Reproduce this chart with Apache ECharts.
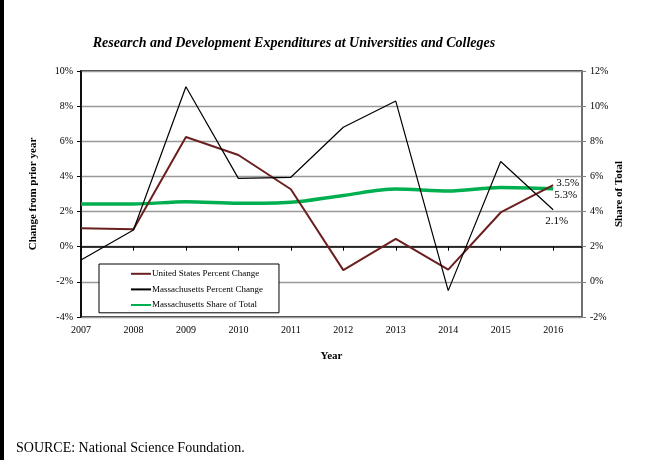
<!DOCTYPE html>
<html>
<head>
<meta charset="utf-8">
<script src="https://cdn.jsdelivr.net/npm/echarts@6/dist/echarts.min.js"></script>
<style>
html,body{margin:0;padding:0;background:#fff;}
#chart{width:647px;height:460px;}
</style>
</head>
<body>
<div id="chart"></div>
<script>
const years = [2007, 2008, 2009, 2010, 2011, 2012, 2013, 2014, 2015, 2016];
const usChange = [1.05, 0.99, 6.24, 5.22, 3.27, -1.33, 0.45, -1.3, 1.95, 3.5];
const maChange = [-0.76, 0.95, 9.1, 3.89, 3.95, 6.8, 8.29, -2.5, 4.85, 2.1];
const maShare = [4.43, 4.43, 4.56, 4.47, 4.53, 4.92, 5.28, 5.17, 5.37, 5.3];
const seriesNames = ['United States Percent Change', 'Massachusetts Percent Change', 'Massachusetts Share of Total'];
const titleText = 'Research and Development Expenditures at Universities and Colleges';
const sourceText = 'SOURCE: National Science Foundation.';

const FONT = '"Liberation Serif", "Times New Roman", serif';

function pairs(vals) {
  return vals.map((v, i) => [years[i], v]);
}
function endLabel(offset) {
  return {
    show: true,
    formatter: p => p.value[1].toFixed(1) + '%',
    fontFamily: FONT, fontSize: 11, color: '#000',
    offset: offset, distance: 3
  };
}

const chart = echarts.init(document.getElementById('chart'), null, { renderer: 'canvas' });
chart.setOption({
  animation: false,
  backgroundColor: '#fff',
  title: {
    text: titleText,
    left: 289, top: 31, textAlign: 'center',
    textStyle: { fontFamily: FONT, fontSize: 14, fontWeight: 'bold', fontStyle: 'italic', color: '#000' }
  },
  graphic: [
    { type: 'rect', left: 0, top: 0, shape: { width: 4, height: 460 }, style: { fill: '#000' }, silent: true },
    { type: 'text', left: 16, top: 441, style: { text: sourceText, font: '14px ' + FONT, fill: '#000' } }
  ],
  legend: {
    data: seriesNames,
    orient: 'vertical',
    left: 99, top: 264,
    padding: [5, 16, 3, 31],
    itemGap: 6,
    itemWidth: 20, itemHeight: 12,
    borderColor: '#000', borderWidth: 1,
    backgroundColor: '#fff',
    itemStyle: { opacity: 0 },
    textStyle: { fontFamily: FONT, fontSize: 9, color: '#000', padding: [0, 0, 0, -4] }
  },
  grid: {
    left: 81, right: 65, top: 71, bottom: 143,
    show: true, borderColor: '#000', borderWidth: 1.5, backgroundColor: 'transparent'
  },
  xAxis: {
    type: 'value', min: 2007, max: 2016.55, interval: 1,
    name: 'Year', nameLocation: 'middle', nameGap: 34,
    nameTextStyle: { fontFamily: FONT, fontSize: 11, fontWeight: 'bold', color: '#000' },
    axisLine: { lineStyle: { color: '#000', width: 1.5 } },
    axisTick: { show: true, length: 4, customValues: years, lineStyle: { color: '#000' } },
    axisLabel: { customValues: years, formatter: v => String(v), fontFamily: FONT, fontSize: 10, color: '#000', margin: 8 },
    splitLine: { show: false }
  },
  yAxis: [
    {
      type: 'value', min: -4, max: 10, interval: 2, position: 'left',
      name: 'Change from prior year', nameLocation: 'middle', nameGap: 42, nameRotate: 90,
      nameTextStyle: { fontFamily: FONT, fontSize: 11, fontWeight: 'bold', color: '#000' },
      axisLine: { show: true, lineStyle: { color: '#000', width: 1.5 } },
      axisTick: { show: true, length: 4, lineStyle: { color: '#000' } },
      axisLabel: { formatter: v => v + '%', fontFamily: FONT, fontSize: 10, color: '#000', margin: 8 },
      splitLine: { show: true, lineStyle: { color: '#999', width: 1.3 } }
    },
    {
      type: 'value', min: -2, max: 12, interval: 2, position: 'right',
      name: 'Share of Total', nameLocation: 'middle', nameGap: 32, nameRotate: 90,
      nameMoveOverlap: false,
      nameTextStyle: { fontFamily: FONT, fontSize: 11, fontWeight: 'bold', color: '#000' },
      axisLine: { show: true, lineStyle: { color: '#808080', width: 1.5 } },
      axisTick: { show: true, length: 4, lineStyle: { color: '#808080' } },
      axisLabel: { formatter: v => v + '%', fontFamily: FONT, fontSize: 10, color: '#000', margin: 8 },
      splitLine: { show: false }
    }
  ],
  series: [
    {
      name: seriesNames[2], type: 'line', yAxisIndex: 1, symbol: 'none', smooth: 0.3,
      lineStyle: { color: '#00b050', width: 3.5 }, itemStyle: { color: '#00b050' },
      endLabel: endLabel([-2, 6]),
      data: pairs(maShare),
      z: 2
    },
    {
      name: seriesNames[0], type: 'line', yAxisIndex: 0, symbol: 'none',
      lineStyle: { color: '#6b1f1f', width: 2 }, itemStyle: { color: '#6b1f1f' },
      endLabel: endLabel([0, -2]),
      data: pairs(usChange),
      z: 3
    },
    {
      name: seriesNames[1], type: 'line', yAxisIndex: 0, symbol: 'none',
      lineStyle: { color: '#000', width: 1.2 }, itemStyle: { color: '#000' },
      endLabel: endLabel([-11, 11]),
      data: pairs(maChange),
      z: 4
    }
  ]
});
</script>
</body>
</html>
